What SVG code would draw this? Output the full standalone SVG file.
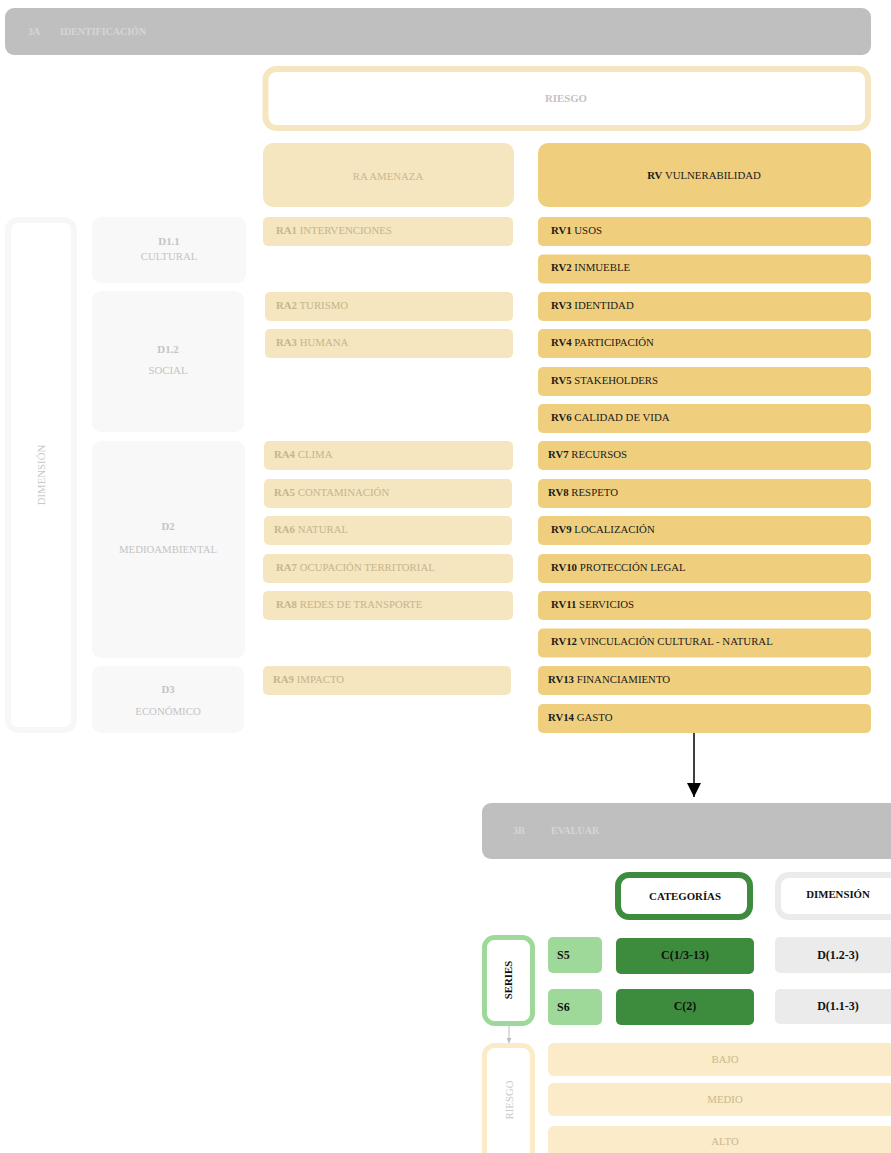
<svg xmlns="http://www.w3.org/2000/svg" width="891" height="1153" viewBox="0 0 891 1153">
<defs>
<style>
text{font-family:"Liberation Serif","DejaVu Serif",serif;font-size:10.8px;}
.hdr{fill:#bfbfbf;}
.hdrt{fill:#d6d6d6;font-weight:bold;font-size:10px;}
.ra{fill:#f5e6bf;}
.rat{fill:#c5b58c;}
.rv{fill:#efcf7e;}
.rvt{fill:#1a1a1a;}
.d{fill:#f8f8f8;}
.dt{fill:#c4c4c4;text-anchor:middle;}
.bd{font-weight:bold;}
.c{text-anchor:middle;}
.big{font-size:12px;}
</style>
<marker id="ah" viewBox="0 0 14 14" refX="14" refY="7" markerWidth="14" markerHeight="14" markerUnits="userSpaceOnUse" orient="auto">
<path d="M0,0 L14,7 L0,14 z" fill="#000"/>
</marker>
<marker id="ahs" viewBox="0 0 10 10" refX="10" refY="5" markerWidth="5" markerHeight="5" markerUnits="userSpaceOnUse" orient="auto">
<path d="M0,0 L10,5 L0,10 z" fill="#bdbdbd"/>
</marker>
</defs>
<rect width="891" height="1153" fill="#fff"/>

<g id="header-3a">
<rect class="hdr" x="5" y="8" width="866" height="47" rx="9"/>
<text class="hdrt" x="28" y="35">3A</text>
<text class="hdrt" x="60" y="35">IDENTIFICACIÓN</text>
</g>

<g id="riesgo-top">
<rect x="265.5" y="69" width="602.5" height="59" rx="11" fill="#fff" stroke="#f5e6c0" stroke-width="6"/>
<text class="c bd" x="566" y="102" fill="#c3c3c3">RIESGO</text>
</g>

<g id="ra-head">
<rect class="ra" x="263" y="143" width="251" height="64" rx="10"/>
<text class="c" x="388" y="180" fill="#c8b98f">RA AMENAZA</text>
</g>
<g id="rv-head">
<rect class="rv" x="538" y="143" width="333" height="64" rx="10"/>
<text class="c rvt" x="704" y="179"><tspan class="bd">RV</tspan> VULNERABILIDAD</text>
</g>

<g id="dimension">
<rect x="8" y="220" width="66" height="510" rx="10" fill="#fff" stroke="#f7f7f7" stroke-width="6"/>
<text class="c" transform="translate(45,475) rotate(-90)" fill="#c8c8c8">DIMENSIÓN</text>
</g>

<g id="d11"><rect class="d" x="92" y="217" width="154" height="66" rx="9"/>
<text class="dt bd" x="169" y="245">D1.1</text><text class="dt" x="169" y="260">CULTURAL</text></g>
<g id="d12"><rect class="d" x="92" y="291" width="152" height="141" rx="9"/>
<text class="dt bd" x="168" y="353">D1.2</text><text class="dt" x="168" y="374">SOCIAL</text></g>
<g id="d2"><rect class="d" x="92" y="441" width="153" height="217" rx="9"/>
<text class="dt bd" x="168" y="530">D2</text><text class="dt" x="168" y="553">MEDIOAMBIENTAL</text></g>
<g id="d3"><rect class="d" x="92" y="666" width="152" height="67" rx="9"/>
<text class="dt bd" x="168" y="693">D3</text><text class="dt" x="168" y="715">ECONÓMICO</text></g>

<g id="ra1"><rect class="ra" x="263" y="217" width="250" height="29" rx="5"/><text class="rat" x="276" y="234"><tspan class="bd">RA1</tspan> INTERVENCIONES</text></g>
<g id="ra2"><rect class="ra" x="265" y="292" width="248" height="29" rx="5"/><text class="rat" x="276" y="309"><tspan class="bd">RA2</tspan> TURISMO</text></g>
<g id="ra3"><rect class="ra" x="265" y="329" width="248" height="29" rx="5"/><text class="rat" x="276" y="346"><tspan class="bd">RA3</tspan> HUMANA</text></g>
<g id="ra4"><rect class="ra" x="264" y="441" width="249" height="29" rx="5"/><text class="rat" x="274" y="458"><tspan class="bd">RA4</tspan> CLIMA</text></g>
<g id="ra5"><rect class="ra" x="264" y="479" width="248" height="29" rx="5"/><text class="rat" x="274" y="496"><tspan class="bd">RA5</tspan> CONTAMINACIÓN</text></g>
<g id="ra6"><rect class="ra" x="264" y="516" width="248" height="29" rx="5"/><text class="rat" x="274" y="533"><tspan class="bd">RA6</tspan> NATURAL</text></g>
<g id="ra7"><rect class="ra" x="263" y="554" width="250" height="29" rx="5"/><text class="rat" x="276" y="571"><tspan class="bd">RA7</tspan> OCUPACIÓN TERRITORIAL</text></g>
<g id="ra8"><rect class="ra" x="263" y="591" width="250" height="29" rx="5"/><text class="rat" x="276" y="608"><tspan class="bd">RA8</tspan> REDES DE TRANSPORTE</text></g>
<g id="ra9"><rect class="ra" x="263" y="666" width="248" height="29" rx="5"/><text class="rat" x="273" y="683"><tspan class="bd">RA9</tspan> IMPACTO</text></g>

<g id="rv1"><rect class="rv" x="538" y="217" width="333" height="29" rx="5"/><text class="rvt" x="551" y="234"><tspan class="bd">RV1</tspan> USOS</text></g>
<g id="rv2"><rect class="rv" x="538" y="254.5" width="333" height="29" rx="5"/><text class="rvt" x="551" y="271"><tspan class="bd">RV2</tspan> INMUEBLE</text></g>
<g id="rv3"><rect class="rv" x="538" y="292" width="333" height="29" rx="5"/><text class="rvt" x="551" y="309"><tspan class="bd">RV3</tspan> IDENTIDAD</text></g>
<g id="rv4"><rect class="rv" x="538" y="329" width="333" height="29" rx="5"/><text class="rvt" x="551" y="346"><tspan class="bd">RV4</tspan> PARTICIPACIÓN</text></g>
<g id="rv5"><rect class="rv" x="538" y="367" width="333" height="29" rx="5"/><text class="rvt" x="551" y="384"><tspan class="bd">RV5</tspan> STAKEHOLDERS</text></g>
<g id="rv6"><rect class="rv" x="538" y="404" width="333" height="29" rx="5"/><text class="rvt" x="551" y="421"><tspan class="bd">RV6</tspan> CALIDAD DE VIDA</text></g>
<g id="rv7"><rect class="rv" x="538" y="441" width="333" height="29" rx="5"/><text class="rvt" x="548" y="458"><tspan class="bd">RV7</tspan> RECURSOS</text></g>
<g id="rv8"><rect class="rv" x="538" y="479" width="333" height="29" rx="5"/><text class="rvt" x="548" y="496"><tspan class="bd">RV8</tspan> RESPETO</text></g>
<g id="rv9"><rect class="rv" x="538" y="516" width="333" height="29" rx="5"/><text class="rvt" x="551" y="533"><tspan class="bd">RV9</tspan> LOCALIZACIÓN</text></g>
<g id="rv10"><rect class="rv" x="538" y="554" width="333" height="29" rx="5"/><text class="rvt" x="551" y="571"><tspan class="bd">RV10</tspan> PROTECCIÓN LEGAL</text></g>
<g id="rv11"><rect class="rv" x="538" y="591" width="333" height="29" rx="5"/><text class="rvt" x="551" y="608"><tspan class="bd">RV11</tspan> SERVICIOS</text></g>
<g id="rv12"><rect class="rv" x="538" y="628.5" width="333" height="29" rx="5"/><text class="rvt" x="551" y="645"><tspan class="bd">RV12</tspan> VINCULACIÓN CULTURAL - NATURAL</text></g>
<g id="rv13"><rect class="rv" x="538" y="666" width="333" height="29" rx="5"/><text class="rvt" x="548" y="683"><tspan class="bd">RV13</tspan> FINANCIAMIENTO</text></g>
<g id="rv14"><rect class="rv" x="538" y="704" width="333" height="29" rx="5"/><text class="rvt" x="548" y="721"><tspan class="bd">RV14</tspan> GASTO</text></g>

<g id="connectors">
<line x1="694" y1="733" x2="694" y2="797" stroke="#000" stroke-width="1.5" marker-end="url(#ah)"/>
<line x1="509" y1="1026" x2="509" y2="1043" stroke="#bdbdbd" stroke-width="1" marker-end="url(#ahs)"/>
</g>

<g id="header-3b">
<rect class="hdr" x="482" y="803" width="420" height="56" rx="9"/>
<text class="hdrt" x="513" y="834">3B</text>
<text class="hdrt" x="551" y="834">EVALUAR</text>
</g>

<g id="categorias">
<rect x="618" y="875" width="132" height="42" rx="11" fill="#fff" stroke="#3d8c3d" stroke-width="6"/>
<text class="c bd" x="685" y="900" fill="#111" font-size="11">CATEGORÍAS</text>
</g>
<g id="dimension-b">
<rect x="778" y="875" width="130" height="42" rx="11" fill="#fff" stroke="#ebebeb" stroke-width="6"/>
<text class="c bd" x="838" y="898" fill="#111" font-size="11">DIMENSIÓN</text>
</g>

<g id="series">
<rect x="484.5" y="937.5" width="48" height="86" rx="10" fill="#fff" stroke="#9ed99a" stroke-width="5"/>
<text class="c bd" transform="translate(512,980) rotate(-90)" fill="#111">SERIES</text>
</g>
<g id="s5"><rect x="548" y="937" width="54" height="36" rx="5" fill="#9ed99a"/><text class="bd big" x="557" y="959" fill="#111">S5</text></g>
<g id="s6"><rect x="548" y="989" width="54" height="36" rx="5" fill="#9ed99a"/><text class="bd big" x="557" y="1011" fill="#111">S6</text></g>
<g id="c1"><rect x="616" y="938" width="138" height="36" rx="5" fill="#3d8c3d"/><text class="c bd big" x="685" y="959" fill="#111">C(1/3-13)</text></g>
<g id="c2"><rect x="616" y="989" width="138" height="36" rx="5" fill="#3d8c3d"/><text class="c bd big" x="685" y="1010" fill="#111">C(2)</text></g>
<g id="d123"><rect x="775" y="937" width="130" height="36" rx="5" fill="#ebebeb"/><text class="c bd big" x="838" y="959" fill="#111">D(1.2-3)</text></g>
<g id="d113"><rect x="775" y="989" width="130" height="35" rx="5" fill="#ebebeb"/><text class="c bd big" x="838" y="1010" fill="#111">D(1.1-3)</text></g>

<g id="riesgo-b">
<rect x="484.5" y="1045.5" width="48" height="120" rx="10" fill="#fff" stroke="#fbebc9" stroke-width="5"/>
<text class="c" transform="translate(513,1100) rotate(-90)" fill="#c8c8c8">RIESGO</text>
</g>
<g id="bajo"><rect x="548" y="1043" width="360" height="33" rx="6" fill="#fbebc9"/><text class="c" x="725" y="1063" fill="#c8b98f">BAJO</text></g>
<g id="medio"><rect x="548" y="1083" width="360" height="33" rx="6" fill="#fbebc9"/><text class="c" x="725" y="1103" fill="#c8b98f">MEDIO</text></g>
<g id="alto"><rect x="548" y="1126" width="360" height="40" rx="6" fill="#fbebc9"/><text class="c" x="725" y="1145" fill="#c8b98f">ALTO</text></g>
</svg>
